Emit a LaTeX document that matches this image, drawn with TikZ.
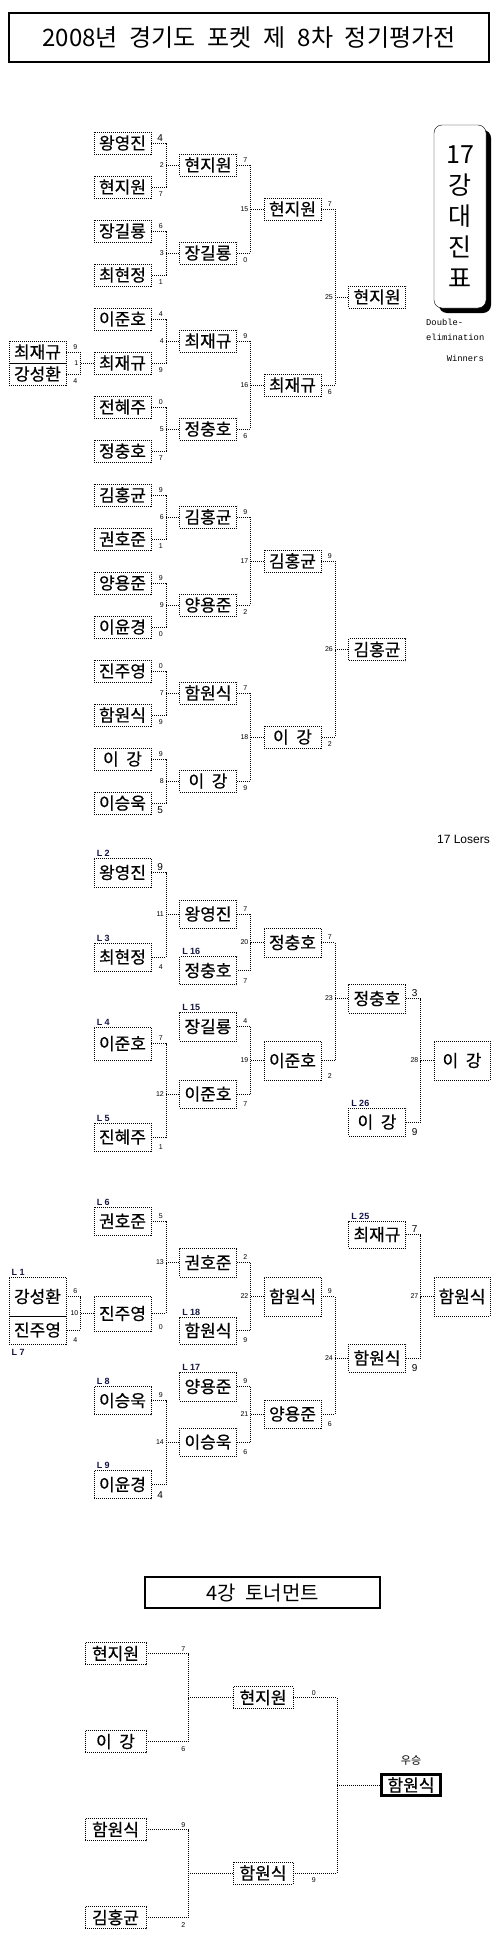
\documentclass[tikz,border=0pt]{standalone}
\usepackage{fontspec}
\setmainfont{Noto Sans CJK KR}
\newfontfamily\numfont{Liberation Sans}
\newfontfamily\monofont{Liberation Mono}
\newfontfamily\headfont{Noto Sans CJK KR}[WordSpace=2.2]
\newfontfamily\namefont{Noto Sans CJK KR}[FakeBold=0.5]
\usetikzlibrary{calc,positioning,shadows}
\definecolor{lblnavy}{RGB}{20,20,70}
\newcommand\bigsc{\fontsize{10}{10}\selectfont}
\tikzset{
  dotline/.style = {line width=0.9pt, dash pattern=on 1pt off 1pt},
  namebox/.style = {draw, dotline, rectangle, minimum width=57pt,
                    minimum height=22pt, inner sep=0pt,
                    font=\namefont\fontsize{17}{17}\selectfont},
  link/.style    = {dotline},
  score/.style   = {inner sep=0pt, anchor=east,
                    font=\numfont\fontsize{7}{7}\selectfont},
  lbl/.style     = {inner sep=0pt, anchor=south west, text=lblnavy,
                    font=\numfont\bfseries\fontsize{9}{9}\selectfont},
  headbox/.style = {draw, line width=2pt, inner sep=0pt},
}
\begin{document}
\begin{tikzpicture}[x=1pt, y=-1pt]
\useasboundingbox (0,0) rectangle (500,1959);
% headings
\node[headbox, minimum width=480pt, minimum height=49pt,
      font=\headfont\fontsize{24}{24}\selectfont] (title) at (249,37.5)
  {2008년 경기도 포켓 제 8차 정기평가전};
\node[draw, fill=white, rounded corners=8pt, minimum width=52pt,
      minimum height=183pt, inner sep=0pt, align=center,
      drop shadow={shadow xshift=5pt, shadow yshift=-5pt, fill=black, opacity=1},
      font=\fontsize{25}{31}\selectfont] (cap) at (460,216.5)
  {17\\강\\대\\진\\표};
\node[inner sep=0pt, anchor=west, align=left,
      font=\monofont\fontsize{8.8}{15}\selectfont] (kind) at (426,329.5)
  {Double-\\elimination};
\node[inner sep=0pt, anchor=east, font=\monofont\fontsize{8.8}{8.8}\selectfont]
  (wtag) at (484,358) {Winners};
\node[inner sep=0pt, anchor=east, font=\numfont\fontsize{12}{12}\selectfont]
  (ltag) at (490,839) {17 Losers};

% winners bracket
\node[namebox] (wq1) at (37.5,352) {최재규};
\node[namebox] (wq2) at (37.5,374) {강성환};
\foreach \t [count=\i] in {왕영진, 현지원, 장길룡, 최현정, 이준호, 최재규,
                         전혜주, 정충호, 김홍균, 권호준, 양용준, 이윤경,
                         진주영, 함원식, 이~~강, 이승욱}
  \node[namebox] (wa\i) at (122.5,99+44*\i) {\t};
\foreach \t [count=\i] in {현지원, 장길룡, 최재규, 정충호, 김홍균, 양용준,
                         함원식, 이~~강}
  \node[namebox] (wb\i) at (208,77+88*\i) {\t};
\foreach \t [count=\i] in {현지원, 최재규, 김홍균, 이~~강}
  \node[namebox] (wc\i) at (292.5,33+176*\i) {\t};
\node[namebox] (wd1) at (377,297) {현지원};
\node[namebox] (wd2) at (377,649.5) {김홍균};

% losers bracket
\node[namebox, minimum height=39pt] (lq1) at (37.5,1296.5) {강성환};
\node[namebox, minimum height=28pt] (lq2) at (37.5,1330) {진주영};
\foreach \t/\y/\h [count=\i] in {왕영진/872.5/29, 최현정/957/28,
    이준호/1043.5/33, 진혜주/1137/28, 권호준/1221/28, 진주영/1313.5/35,
    이승욱/1400.5/28, 이윤경/1484.5/28}
  \node[namebox, minimum height=\h pt] (la\i) at (122.5,\y) {\t};
\foreach \t/\y/\h [count=\i] in {왕영진/914/28, 정충호/970.5/28,
    장길룡/1026.5/29, 이준호/1094/28, 권호준/1262.5/29, 함원식/1330.5/27,
    양용준/1386.5/29, 이승욱/1442/28}
  \node[namebox, minimum height=\h pt] (lb\i) at (208,\y) {\t};
\foreach \t/\y/\h [count=\i] in {정충호/942.5/29, 이준호/1060.5/39,
    함원식/1296.5/39, 양용준/1414/28}
  \node[namebox, minimum height=\h pt] (lc\i) at (292.5,\y) {\t};
\foreach \t/\y/\h [count=\i] in {정충호/998.5/29, 이~~강/1122/28,
    최재규/1234.5/27, 함원식/1358/28}
  \node[namebox, minimum height=\h pt] (ld\i) at (377,\y) {\t};
\node[namebox, minimum width=56pt, minimum height=39pt] (le1) at (462,1060.5) {이~~강};
\node[namebox, minimum width=56pt, minimum height=39pt] (le2) at (462,1296.5) {함원식};
\foreach \n/\t in {la1/2, la2/3, la3/4, la4/5, la5/6, la7/8, la8/9, lb2/16,
                   lb3/15, lb6/18, lb7/17, ld2/26, ld3/25, lq1/1}
  \node[lbl] at ([xshift=3pt,yshift=1pt]\n.north west) {L \t};
\node[lbl, anchor=north west] at ([xshift=3pt,yshift=-5pt]lq2.south west) {L 7};

% matches: top, bottom, winner, scores, match no.
\foreach \a/\b/\w/\sa/\sb/\m in {
    wq1/wq2/wa6/9/4/1, wa1/wa2/wb1/{\bigsc 4}/7/2, wa3/wa4/wb2/6/1/3,
    wa5/wa6/wb3/4/9/4, wa7/wa8/wb4/0/7/5, wa9/wa10/wb5/9/1/6,
    wa11/wa12/wb6/9/0/9, wa13/wa14/wb7/0/9/7, wa15/wa16/wb8/9/{\bigsc 5}/8,
    wb1/wb2/wc1/7/0/15, wb3/wb4/wc2/9/6/16, wb5/wb6/wc3/9/2/17,
    wb7/wb8/wc4/7/9/18, wc1/wc2/wd1/7/6/25, wc3/wc4/wd2/9/2/26,
    lq1/lq2/la6/6/4/10, la1/la2/lb1/{\bigsc 9}/4/11, la3/la4/lb4/7/1/12,
    la5/la6/lb5/5/0/13, la7/la8/lb8/9/{\bigsc 4}/14, lb3/lb4/lc2/4/7/19,
    lb1/lb2/lc1/7/7/20, lb7/lb8/lc4/9/6/21, lb5/lb6/lc3/2/9/22,
    lc1/lc2/ld1/7/2/23, lc3/lc4/ld4/9/6/24,
    ld3/ld4/le2/{\bigsc 7}/{\bigsc 9}/27, ld1/ld2/le1/{\bigsc 3}/{\bigsc 9}/28}
{
  \draw[link] (\a.east) -| ([xshift=-13pt]\w.west) |- (\b.east);
  \draw[link] (\w.west) -- ([xshift=-13pt]\w.west);
  \node[score] at ($(\w.west |- \a.center)+(-16,-5)$) {\sa};
  \node[score] at ($(\w.west |- \b.south)+(-16,-4)$) {\sb};
  \node[score] at ($(\w.west)+(-15,0)$) {\m};
}

% final four
\node[headbox, minimum width=235pt, minimum height=31pt,
      font=\headfont\fontsize{20}{20}\selectfont] (semi) at (262.5,1592.5)
  {4강 토너먼트};
\foreach \t [count=\i] in {현지원, 이~~강, 함원식, 김홍균}
  \node[namebox, minimum width=61pt] (fa\i) at (115.5,1565.5+88*\i) {\t};
\node[namebox, minimum width=60pt] (fb1) at (263,1697.5) {현지원};
\node[namebox, minimum width=60pt] (fb2) at (263,1873) {함원식};
\node[draw, line width=3pt, minimum width=59pt, minimum height=21pt,
      inner sep=0pt, font=\namefont\fontsize{17}{17}\selectfont] (champ) at (411,1785) {함원식};
\node[above=7pt of champ, inner sep=0pt, font=\fontsize{11}{11}\selectfont] (crown) {우승};
\foreach \a/\b/\w/\sa/\sb/\d/\o in {fa1/fa2/fb1/7/6/44/3, fa3/fa4/fb2/9/2/44/3,
                                     fb1/fb2/champ/0/9/43/21}
{
  \draw[link] (\a.east) -| ([xshift=-\d pt]\w.west) |- (\b.east);
  \draw[link] (\w.west) -- ([xshift=-\d pt]\w.west);
  \node[score] at ($(\w.west |- \a.center)+(-\d-\o,-4.5)$) {\sa};
  \node[score] at ($(\w.west |- \b.south)+(-\d-\o,-4)$) {\sb};
}
\end{tikzpicture}
\end{document}
